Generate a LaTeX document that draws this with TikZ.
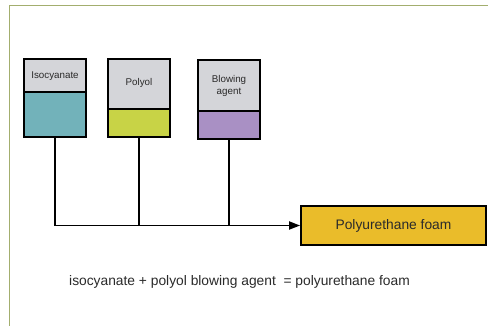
\documentclass[tikz,border=0pt]{standalone}
\usepackage{fontspec}
\setmainfont{Liberation Sans}
\usetikzlibrary{arrows.meta}
\definecolor{frameol}{HTML}{A3AE6E}
\definecolor{boxgray}{HTML}{D4D5D9}
\definecolor{tealbox}{HTML}{72B2BA}
\definecolor{limebox}{HTML}{C8D346}
\definecolor{lilacbox}{HTML}{A990C4}
\definecolor{foamfill}{HTML}{EABC2A}
\definecolor{txt}{HTML}{2A2A2A}
\begin{document}
\begin{tikzpicture}[x=1pt,y=-1pt,
  boxpart/.style={draw=black,line width=1.8pt},
  lbl/.style={font=\fontsize{9.8}{12}\selectfont,text=txt,align=center},
  conn/.style={line width=1.3pt,black}]
\useasboundingbox (0,0) rectangle (488,325);
\fill[white] (0,0) rectangle (488,325);
\draw[frameol,line width=1.8pt] (9.5,330) -- (9.5,5.5) -- (495,5.5);
% Isocyanate
\draw[boxpart,fill=boxgray] (24,59) rectangle (86,92);
\draw[boxpart,fill=tealbox] (24,92) rectangle (86,137);
\node[lbl] (isolbl) at (55,76) {Isocyanate};
\coordinate (iso) at (55,137);
% Polyol
\draw[boxpart,fill=boxgray] (108,59) rectangle (170,109);
\draw[boxpart,fill=limebox] (108,109) rectangle (170,137);
\node[lbl] (pollbl) at (139,83) {Polyol};
\coordinate (pol) at (139,137);
% Blowing agent
\draw[boxpart,fill=boxgray] (198,60) rectangle (260,111);
\draw[boxpart,fill=lilacbox] (198,111) rectangle (260,139);
\node[lbl] (blowlbl) at (229,86) {Blowing\\agent};
\coordinate (blow) at (229,139);
% Foam
\node[draw=black,line width=1.8pt,fill=foamfill,minimum width=185pt,minimum height=39pt,
  font=\fontsize{13.8}{16}\selectfont,text=txt,inner sep=0pt] (foam) at (393.5,225.5) {Polyurethane foam};
% connectors
\draw[conn] (iso) |- (pol |- foam.west);
\draw[conn] (pol) |- (blow |- foam.west);
\draw[conn,line width=1.8pt,-{Triangle[length=11pt,width=8pt]}] (blow) |- (foam.west);
% equation
\node[font=\fontsize{13.8}{16}\selectfont,text=txt,anchor=west,inner sep=0pt] (eq) at (69,282)
  {isocyanate + polyol blowing agent\ \ = polyurethane foam};
\end{tikzpicture}
\end{document}
